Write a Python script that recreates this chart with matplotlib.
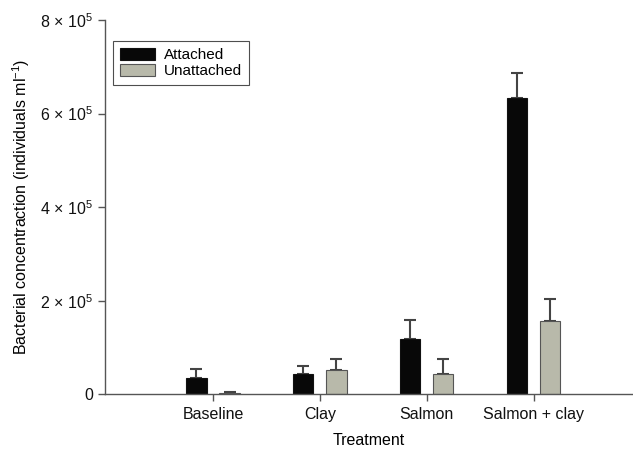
import matplotlib
matplotlib.use("Agg")
import matplotlib.pyplot as plt
import numpy as np

categories = ["Baseline", "Clay", "Salmon", "Salmon + clay"]
attached = [34000, 44000, 119000, 634000]
attached_err = [20000, 17000, 39000, 52000]
unattached = [3500, 51000, 43000, 156000]
unattached_err = [1500, 24000, 33000, 47000]
yticks = [0, 200000, 400000, 600000, 800000]
ytick_labels = ["0", "2 × 10$^{5}$", "4 × 10$^{5}$", "6 × 10$^{5}$", "8 × 10$^{5}$"]

plt.rcParams['font.family'] = ['Liberation Sans', 'DejaVu Sans']
plt.rcParams['mathtext.fontset'] = 'custom'
plt.rcParams['mathtext.rm'] = 'Liberation Sans'
plt.rcParams['mathtext.it'] = 'Liberation Sans'
plt.rcParams['mathtext.sf'] = 'Liberation Sans'
plt.rcParams['mathtext.default'] = 'regular'

fig = plt.figure(figsize=(6.33, 4.51), dpi=100)
ax = fig.add_axes([105/633, 1 - 394.3/451, 1 - 105/633, (394.3 - 20)/451])

x = np.arange(len(categories))
w = 0.19
off = 0.155
err_kw = dict(ecolor="#444444", elinewidth=1.5, capsize=4.5, capthick=1.5, zorder=1)
ax.bar(x - off, attached, w, color="#080808", edgecolor="#111111", linewidth=0.8,
       yerr=[np.zeros(4), attached_err], error_kw=err_kw, label="Attached", zorder=2)
ax.bar(x + off, unattached, w, color="#b8b9aa", edgecolor="#555555", linewidth=0.8,
       yerr=[np.zeros(4), unattached_err], error_kw=err_kw, label="Unattached", zorder=2)

ax.set_xlim(-1.01, 3.93)
ax.set_ylim(0, 800000)
ax.set_xticks(x)
ax.set_xticklabels(categories, fontsize=11.5)
ax.set_yticks(yticks)
ax.set_yticklabels(ytick_labels, fontsize=11.5)
ax.tick_params(axis="both", colors="#555555", length=5, width=1, labelcolor="#111111")
ax.tick_params(axis="x", pad=4)

for s in ["top", "right"]:
    ax.spines[s].set_visible(False)
for s in ["left", "bottom"]:
    ax.spines[s].set_color("#555555")
    ax.spines[s].set_linewidth(1.0)

ax.set_xlabel("Treatment", fontsize=11.5, labelpad=8)
ax.set_ylabel("Bacterial concentraction (individuals ml$^{-1}$)", fontsize=11.5, labelpad=6)

leg = ax.legend(loc="upper left", bbox_to_anchor=(8/528, 1 - 21/374), fontsize=11,
                borderaxespad=0, frameon=True, fancybox=False, edgecolor="#222222",
                handlelength=2.3, handleheight=0.8, borderpad=0.45, labelspacing=0.15,
                handletextpad=0.6)
leg.get_frame().set_linewidth(0.8)

fig.savefig("out.png", dpi=100)
